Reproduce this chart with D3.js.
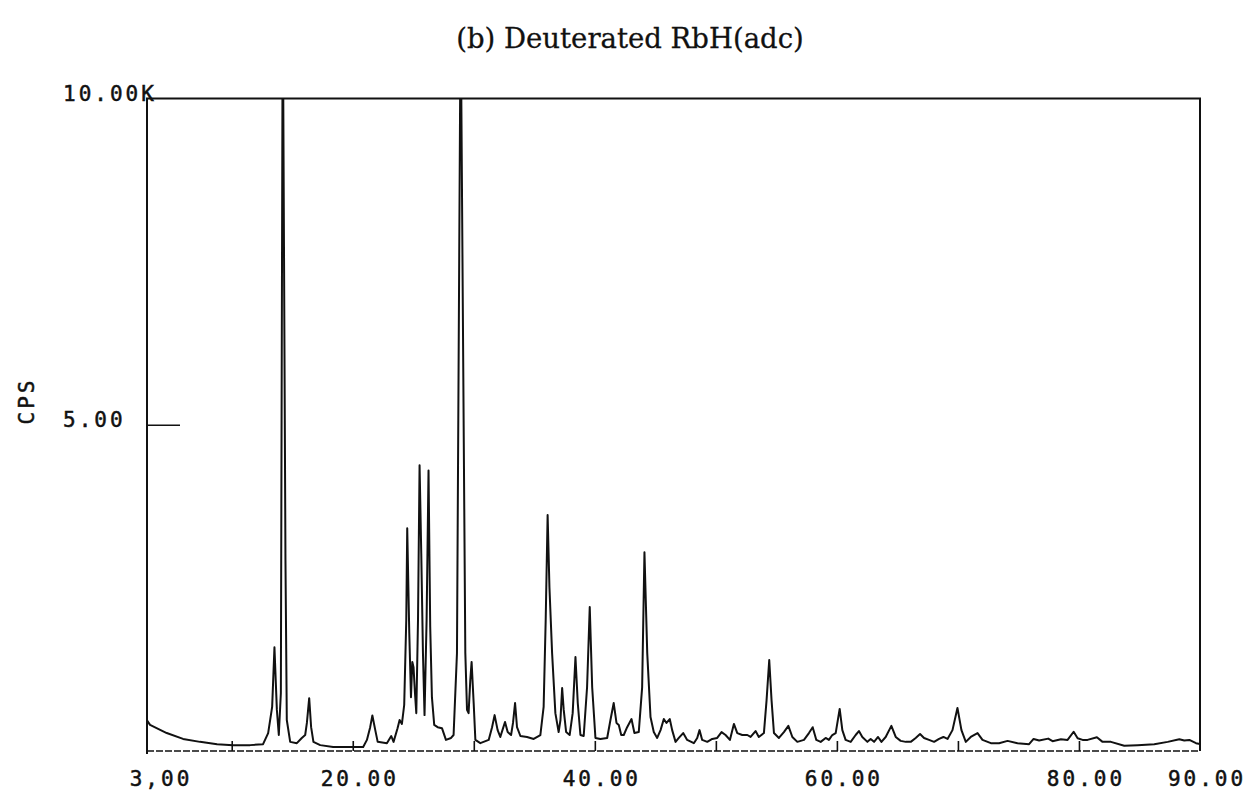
<!DOCTYPE html>
<html>
<head>
<meta charset="utf-8">
<script src="https://cdn.jsdelivr.net/npm/d3@7"></script>
<style>
  body { margin: 0; background: #fff; }
  svg { display: block; background: #fff; }
  .plotter { font-family: "DejaVu Sans Mono", monospace; font-size: 21px; letter-spacing: 3px; fill: #111; stroke: #111; stroke-width: 0.5px; }
  .title { font-family: "DejaVu Serif", serif; font-size: 27.5px; fill: #111; stroke: #111; stroke-width: 0.3px; }
</style>
</head>
<body>
<svg id="chart" width="1245" height="791"></svg>
<script>
// diffraction trace, 2theta (deg) vs counts
const twoTheta = [
  3.00, 3.25, 4.63, 5.98, 7.38, 8.79, 10.11, 11.52, 12.59, 13.01, 13.34, 13.53, 13.73, 13.89, 14.06,
  14.19, 14.26, 14.44, 14.55, 14.83, 15.38, 15.79, 16.07, 16.21, 16.40, 16.56, 16.75, 17.31, 18.38,
  19.79, 20.86, 21.17, 21.44, 21.62, 21.86, 22.06, 22.82, 23.18, 23.37, 23.70, 23.87, 24.06, 24.25,
  24.42, 24.50, 24.67, 24.81, 24.92, 25.02, 25.14, 25.25, 25.39, 25.52, 25.66, 25.80, 25.93, 26.10,
  26.26, 26.40, 26.54, 26.73, 27.01, 27.37, 27.70, 28.12, 28.33, 28.61, 28.87, 28.97, 29.16, 29.30,
  29.44, 29.57, 29.71, 29.82, 29.99, 30.13, 30.54, 31.23, 31.51, 31.72, 31.97, 32.19, 32.42, 32.58,
  32.80, 33.08, 33.24, 33.41, 33.57, 33.85, 34.40, 34.95, 35.50, 35.77, 35.94, 36.10, 36.25, 36.47,
  36.74, 37.01, 37.16, 37.30, 37.43, 37.63, 37.92, 38.17, 38.40, 38.59, 38.81, 39.08, 39.36, 39.58,
  39.78, 40.05, 40.46, 41.02, 41.29, 41.56, 41.79, 41.98, 42.18, 42.39, 42.67, 43.03, 43.27, 43.63,
  43.91, 44.10, 44.33, 44.60, 44.87, 45.15, 45.43, 45.70, 45.92, 46.19, 46.39, 46.67, 46.94, 47.30,
  47.63, 48.18, 48.46, 48.65, 48.87, 49.29, 49.70, 50.11, 50.47, 50.80, 51.16, 51.49, 51.77, 52.18,
  52.60, 52.87, 53.28, 53.55, 53.97, 54.19, 54.41, 54.60, 54.80, 55.21, 55.62, 55.99, 56.32, 56.73,
  57.28, 57.69, 58.00, 58.30, 58.66, 59.07, 59.34, 59.62, 59.90, 60.23, 60.45, 60.72, 61.14, 61.55,
  61.82, 62.10, 62.52, 62.79, 63.07, 63.40, 63.68, 64.03, 64.50, 64.86, 65.27, 65.69, 66.10, 66.51,
  66.87, 67.20, 67.61, 68.03, 68.44, 68.80, 69.14, 69.55, 69.96, 70.29, 70.65, 71.06, 71.62, 72.03,
  72.72, 73.40, 74.10, 74.92, 75.88, 76.25, 76.71, 77.46, 77.82, 78.51, 79.06, 79.56, 79.89, 80.30,
  80.71, 81.48, 81.95, 82.64, 83.74, 84.85, 86.22, 87.33, 88.29, 88.70, 89.12, 89.67, 90.00
];
const counts = [
  470, 400, 275, 185, 140, 105, 90, 90, 105, 275, 675, 1590, 630, 245, 890,
  10000, 10000, 2925, 475, 140, 120, 200, 245, 430, 810, 365, 140, 90, 60,
  60, 60, 170, 365, 545, 320, 140, 120, 230, 140, 350, 475, 415, 705,
  2005, 3415, 1805, 825, 1365, 1285, 890, 580, 2005, 4380, 3030, 1500, 550, 2005,
  4300, 1900, 825, 400, 365, 350, 170, 200, 245, 1500, 10000, 10000, 5070, 1500,
  630, 580, 1085, 1365, 735, 170, 120, 170, 365, 550, 320, 215, 350, 445,
  290, 245, 430, 735, 365, 230, 215, 185, 245, 675, 2005, 3615, 2510, 1500,
  580, 290, 475, 965, 630, 290, 245, 580, 1440, 735, 245, 230, 980, 2205,
  980, 200, 185, 200, 475, 735, 430, 400, 245, 245, 365, 490, 275, 290,
  980, 3045, 1500, 520, 290, 200, 320, 490, 430, 490, 320, 140, 200, 275,
  170, 120, 200, 320, 170, 140, 185, 200, 290, 245, 170, 415, 275, 245,
  245, 215, 305, 215, 275, 780, 1395, 780, 275, 200, 290, 385, 215, 140,
  170, 275, 365, 170, 140, 200, 170, 245, 275, 645, 320, 170, 140, 245,
  305, 215, 140, 185, 140, 215, 140, 215, 385, 215, 155, 140, 140, 200,
  260, 200, 170, 140, 185, 215, 185, 320, 660, 320, 140, 215, 275, 170,
  120, 120, 155, 120, 105, 185, 160, 190, 150, 180, 170, 295, 195, 170,
  170, 210, 140, 140, 80, 90, 105, 140, 180, 160, 170, 120, 105
];

const xTickMarks = [10, 20, 30, 40, 50, 60, 70, 80];
const xLabelValues = [3, 20, 40, 60, 80, 90];
const xLabelText = ["3,00", "20.00", "40.00", "60.00", "80.00", "90.00"];
const yLabelValues = [10000, 5000];
const yLabelText = ["10.00K", "5.00"];
const yTickMarks = [5000];

const svg = d3.select("#chart");
const plotLeft = 147, plotRight = 1200, plotTop = 98.5, plotBottom = 751;

const x = d3.scaleLinear().domain([3, 90]).range([plotLeft, plotRight]);
const y = d3.scaleLinear().domain([0, 10000]).range([plotBottom, plotTop]);

// title
svg.append("text")
  .attr("class", "title")
  .attr("x", 630)
  .attr("y", 48)
  .attr("text-anchor", "middle")
  .text("(b) Deuterated RbH(adc)");

// frame: solid on three sides, broken baseline
const frame = svg.append("g").attr("stroke", "#111").attr("fill", "none");
frame.append("path")
  .attr("d", `M${plotLeft},${plotBottom + 3} V${plotTop} H${plotRight} V${plotBottom}`)
  .attr("stroke-width", 2);
frame.append("line")
  .attr("x1", plotLeft).attr("x2", plotRight)
  .attr("y1", plotBottom).attr("y2", plotBottom)
  .attr("stroke-width", 1.4)
  .attr("stroke-dasharray", "7,2");

// small upward ticks along the baseline
const xAxis = svg.append("g")
  .attr("transform", `translate(0,${plotBottom})`)
  .call(d3.axisBottom(x).tickValues(xTickMarks).tickSize(-10).tickFormat(""));
xAxis.select(".domain").remove();
xAxis.selectAll("line").attr("stroke", "#111").attr("stroke-width", 1.6);

// inward tick at 5.00
const yAxis = svg.append("g")
  .attr("transform", `translate(${plotLeft},0)`)
  .call(d3.axisLeft(y).tickValues(yTickMarks).tickSize(-33).tickFormat(""));
yAxis.select(".domain").remove();
yAxis.selectAll("line").attr("stroke", "#111").attr("stroke-width", 1.6);

// x labels
svg.selectAll(".xlab")
  .data(xLabelValues)
  .enter()
  .append("text")
  .attr("class", "plotter xlab")
  .attr("x", (d, i) => x(d) + (i == 0 ? 14 : 7))
  .attr("y", 786)
  .attr("text-anchor", "middle")
  .text((d, i) => xLabelText[i]);

// y labels, left aligned like the plotter did
svg.selectAll(".ylab")
  .data(yLabelValues)
  .enter()
  .append("text")
  .attr("class", "plotter ylab")
  .attr("x", 63)
  .attr("y", d => y(d) + 2)
  .text((d, i) => yLabelText[i]);

svg.append("text")
  .attr("class", "plotter")
  .attr("transform", "translate(34,401) rotate(-90)")
  .attr("text-anchor", "middle")
  .text("CPS");

// the trace
svg.append("clipPath").attr("id", "plotArea")
  .append("rect")
  .attr("x", plotLeft).attr("y", plotTop)
  .attr("width", plotRight - plotLeft).attr("height", plotBottom - plotTop);

const line = d3.line()
  .x((d, i) => x(twoTheta[i]))
  .y((d, i) => y(counts[i]));

svg.append("path")
  .datum(counts)
  .attr("clip-path", "url(#plotArea)")
  .attr("fill", "none")
  .attr("stroke", "#111")
  .attr("stroke-width", 2)
  .attr("stroke-linejoin", "round")
  .attr("d", line);
</script>
</body>
</html>
